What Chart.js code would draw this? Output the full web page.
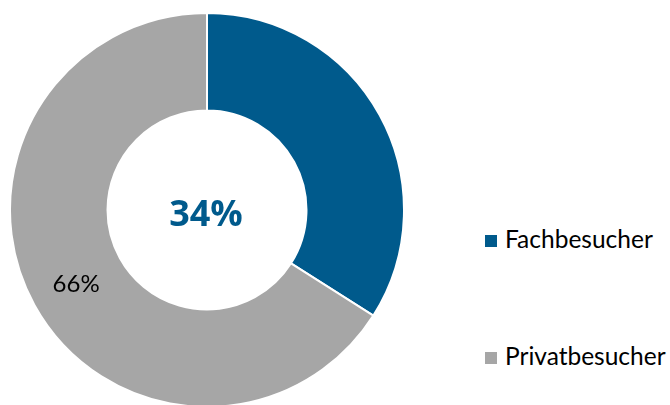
<!DOCTYPE html>
<html>
<head>
<meta charset="utf-8">
<script src="https://cdn.jsdelivr.net/npm/chart.js@4/dist/chart.umd.min.js"></script>
<style>
    html, body { margin: 0; padding: 0; background: #fff; }
    body { width: 670px; height: 405px; overflow: hidden; position: relative; font-family: Lato, "Open Sans", sans-serif; }
    .chartBox { position: absolute; left: 9px; top: 12px; width: 396px; height: 396px; }
    .legend { position: absolute; left: 485px; top: 0; }
    .legend .item { position: absolute; left: 0; white-space: nowrap; font-size: 24.5px; color: #000; line-height: 26px; }
    .legend .box { display: inline-block; width: 12px; height: 12px; margin-right: 8px; vertical-align: 1px; }
</style>
</head>
<body>
<div class="chartBox"><canvas id="shareChart"></canvas></div>
<div class="legend" id="legend"></div>
<script>
// BESUCHERSTRUKTUR

const labels = ['Fachbesucher', 'Privatbesucher'];
const values = [34, 66];
const colors = ['#005A8C', '#A6A6A6'];

// legend rows (y center of each row)
const legendRows = [239, 356];

// center text + label in the gray ring
const textPlugin = {
    id: 'textPlugin',
    afterDatasetsDraw(chart) {
        const ctx = chart.ctx;
        const arcs = chart.getDatasetMeta(0).data;
        const total = values.reduce((a, b) => a + b, 0);

        ctx.save();
        ctx.textAlign = 'center';
        ctx.textBaseline = 'middle';

        // big number in the hole
        const c = arcs[0];
        ctx.fillStyle = colors[0];
        ctx.font = 'bold 36px "Open Sans", sans-serif';
        ctx.fillText(Math.round(values[0] / total * 100) + '%', c.x - 1, c.y + 6);

        // label on the gray segment
        const pos = arcs[1].tooltipPosition();
        ctx.fillStyle = '#000';
        ctx.font = '24px Lato, "Open Sans", sans-serif';
        ctx.fillText(Math.round(values[1] / total * 100) + '%', pos.x - 1, pos.y + 3);

        ctx.restore();
    }
};

new Chart(document.getElementById('shareChart'), {
    type: 'doughnut',
    data: {
        labels: labels,
        datasets: [{
            data: values,
            backgroundColor: colors,
            borderColor: '#fff',
            borderWidth: 2
        }]
    },
    options: {
        responsive: true,
        maintainAspectRatio: false,
        animation: false,
        cutout: '50.5%',
        layout: { padding: 0 },
        plugins: {
            legend: { display: false },
            tooltip: { enabled: false }
        }
    },
    plugins: [textPlugin]
});

// legend
const legend = document.getElementById('legend');
labels.forEach(function(name, i){
    const row = document.createElement('div');
    row.className = 'item';
    row.style.top = (legendRows[i] - 13) + 'px';
    row.innerHTML = '<span class="box" style="background:' + colors[i] + '"></span>' + name;
    legend.appendChild(row);
});
</script>
</body>
</html>
